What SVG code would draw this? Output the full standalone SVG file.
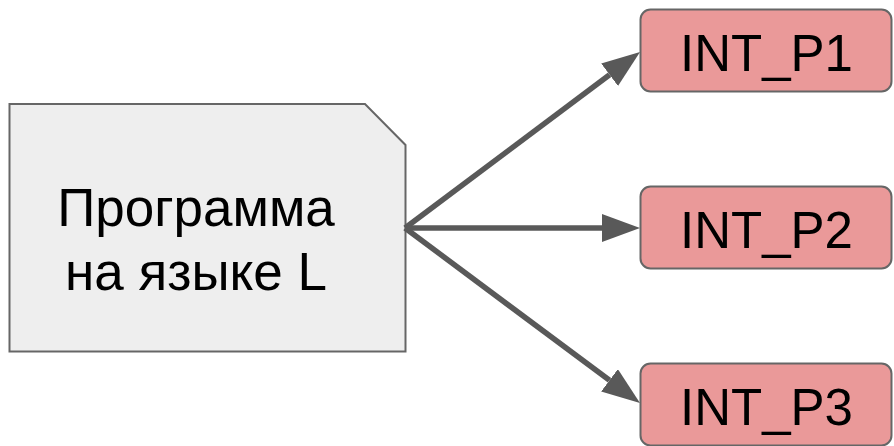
<svg xmlns="http://www.w3.org/2000/svg" width="894" height="446" viewBox="0 0 894 446">
  <style>
    text { font-family: "Liberation Sans", Arial, sans-serif; fill: #000; text-anchor: middle; }
    .doc { fill: #eeeeee; stroke: #666666; stroke-width: 2; }
    .target { fill: #ea9999; stroke: #666666; stroke-width: 2; }
    .big { font-size: 53px; }
    .label { font-size: 51px; }
    .edge { stroke: #595959; stroke-width: 5.5; fill: none; marker-end: url(#head); }
  </style>
  <defs>
    <marker id="head" markerUnits="userSpaceOnUse" markerWidth="40" markerHeight="30" refX="0" refY="14" orient="auto">
      <path d="M0,0 L38,14 L0,28 Z" fill="#595959"/>
    </marker>
  </defs>

  <g id="program">
    <path class="doc" d="M9.5,104 H365 L405.5,145 V351.5 H9.5 Z"/>
    <text class="big" x="196" y="226">Программа</text>
    <text class="big" x="196" y="290">на языке L</text>
  </g>

  <g id="int_p1">
    <rect class="target" x="640.5" y="9.5" width="251" height="82" rx="10"/>
    <text class="label" x="766.5" y="71">INT_P1</text>
  </g>
  <g id="int_p2">
    <rect class="target" x="640.5" y="186.5" width="251" height="82" rx="10"/>
    <text class="label" x="766.5" y="248">INT_P2</text>
  </g>
  <g id="int_p3">
    <rect class="target" x="640.5" y="363.5" width="251" height="82" rx="10"/>
    <text class="label" x="766.5" y="425">INT_P3</text>
  </g>

  <g id="connectors">
    <line class="edge" x1="405" y1="228" x2="609.6" y2="74.8"/>
    <line class="edge" x1="405" y1="228" x2="602" y2="228"/>
    <line class="edge" x1="405" y1="228" x2="609.5" y2="380.3"/>
  </g>
</svg>
